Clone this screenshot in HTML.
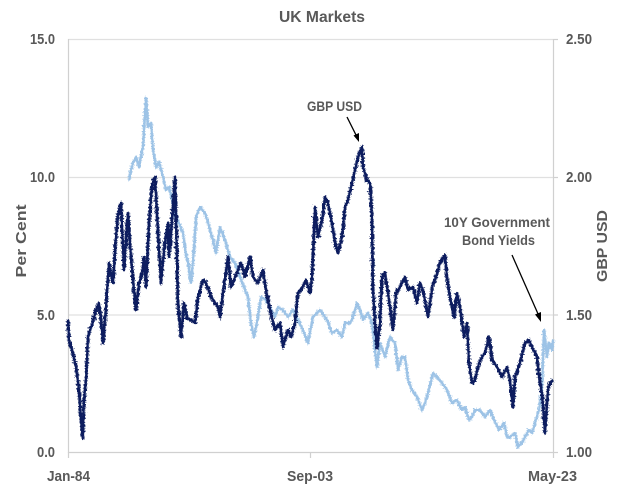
<!DOCTYPE html>
<html><head><meta charset="utf-8"><style>
html,body{margin:0;padding:0;background:#fff;}
svg{display:block;}
text{font-family:"Liberation Sans",sans-serif;font-weight:bold;fill:#595959;}
</style></head><body>
<svg width="624" height="495" viewBox="0 0 624 495" xmlns="http://www.w3.org/2000/svg">
<defs>
<filter id="jit" filterUnits="userSpaceOnUse" x="0" y="0" width="624" height="495">
<feTurbulence type="fractalNoise" baseFrequency="0.45" numOctaves="2" seed="3" result="n"/>
<feDisplacementMap in="SourceGraphic" in2="n" scale="7" xChannelSelector="R" yChannelSelector="G"/>
</filter>
<filter id="jit3" filterUnits="userSpaceOnUse" x="0" y="0" width="624" height="495">
<feTurbulence type="fractalNoise" baseFrequency="0.7" numOctaves="2" seed="21" result="n"/>
<feDisplacementMap in="SourceGraphic" in2="n" scale="6" xChannelSelector="B" yChannelSelector="R"/>
</filter>
<filter id="jit2" filterUnits="userSpaceOnUse" x="0" y="0" width="624" height="495">
<feTurbulence type="fractalNoise" baseFrequency="0.6" numOctaves="2" seed="11" result="n"/>
<feDisplacementMap in="SourceGraphic" in2="n" scale="6" xChannelSelector="G" yChannelSelector="R"/>
</filter>
</defs>
<rect width="624" height="495" fill="#fff"/>
<g stroke="#e0e0e0" stroke-width="1.2">
<line x1="68" y1="39.5" x2="553" y2="39.5"/>
<line x1="68" y1="177.5" x2="553" y2="177.5"/>
<line x1="68" y1="315" x2="553" y2="315"/>
</g>
<g stroke="#d0d0d0" stroke-width="1.2">
<line x1="68.5" y1="39" x2="68.5" y2="453"/>
<line x1="553.5" y1="39" x2="553.5" y2="453"/>
<line x1="68" y1="452.5" x2="554" y2="452.5"/>
<line x1="553" y1="39.5" x2="558" y2="39.5"/>
<line x1="553" y1="177.5" x2="558" y2="177.5"/>
<line x1="553" y1="315" x2="558" y2="315"/>
<line x1="553" y1="452.5" x2="558" y2="452.5"/>
<line x1="68.5" y1="452" x2="68.5" y2="458"/>
<line x1="310.5" y1="452" x2="310.5" y2="458"/>
<line x1="553.5" y1="452" x2="553.5" y2="458"/>
</g>

<g fill="none" stroke="#9dc3e6" stroke-linejoin="round">
<path id="L" stroke-width="2" d="M129,180 L131,170 L133,163 L136,157 L139,167 L143,147 L144,130 L146,98 L148,127 L151,123 L153,150 L156,167 L159,162 L163,177 L166,190 L169,187 L173,203 L176,217 L179,223 L183,233 L186,255 L188,262 L191,283 L194,250 L196,217 L200,207 L205,213 L208,223 L213,240 L216,253 L220,227 L225,240 L230,257 L235,263 L240,277 L245,290 L248,297 L251,323 L254,337 L258,317 L261,297 L266,300 L270,307 L275,317 L278,307 L283,310 L288,317 L293,310 L298,320 L303,330 L308,343 L313,317 L320,310 L327,320 L332,333 L337,330 L342,337 L345,323 L350,323 L353,317 L357,303 L360,310 L363,320 L368,313 L372,323 L375,350 L377,367 L380,343 L385,357 L390,337 L395,343 L398,370 L402,357 L405,357 L408,380 L412,390 L417,397 L422,410 L425,403 L428,393 L433,373 L437,377 L442,383 L447,390 L452,403 L457,400 L462,410 L465,407 L469,420 L472,417 L475,410 L480,410 L485,417 L490,410 L494,420 L499,430 L504,423 L507,437 L510,437 L515,433 L518,447 L522,443 L525,437 L529,430 L532,433 L535,423 L539,410 L542,390 L544,330 L547,357 L549,343 L552,350 L553,340"/>
<use href="#L" stroke-width="1.5" filter="url(#jit2)"/>
<use href="#L" stroke-width="1.2" filter="url(#jit3)"/>
</g>

<g fill="none" stroke="#0c1f5e" stroke-linejoin="round">
<path id="D" stroke-width="2.2" d="M68,320 L69,340 L72,350 L76,367 L79,390 L81,420 L82.7,438 L84,400 L86,380 L88,337 L90,330 L93,322 L96,310 L99,303 L101,320 L103,343 L106,307 L109,263 L111,275 L113,283 L116,237 L118,215 L121,203 L124,270 L126,240 L128,213 L131,257 L133,280 L136,310 L139,283 L142,275 L144,257 L146,287 L149,223 L152,185 L155,177 L158,233 L161,283 L164,250 L168,223 L169,257 L173,207 L175,177 L178,303 L181,337 L184,303 L187,318 L191,320 L195,323 L198,297 L203,280 L206,283 L211,297 L218,307 L220,317 L223,293 L228,257 L231,287 L238,270 L241,263 L245,277 L250,257 L253,277 L258,283 L263,270 L266,290 L270,310 L275,330 L280,323 L283,347 L288,330 L291,337 L295,323 L298,293 L301,290 L306,280 L310,293 L312,277 L315,207 L318,237 L322,220 L325,197 L328,203 L332,223 L335,243 L338,253 L342,237 L345,207 L348,200 L352,183 L355,170 L358,157 L362,147 L363,167 L367,180 L370,183 L372,217 L373,290 L375,323 L377,348 L380,323 L382,277 L385,273 L388,293 L393,330 L396,293 L400,287 L405,277 L408,290 L413,287 L417,303 L420,283 L423,290 L428,317 L433,283 L435,280 L440,263 L445,255 L447,277 L450,297 L454,317 L457,293 L460,307 L464,337 L467,323 L469,363 L472,383 L475,380 L479,363 L482,357 L485,353 L489,337 L492,360 L497,367 L502,377 L507,367 L510,380 L513,407 L515,377 L520,363 L525,343 L529,340 L532,347 L537,357 L539,377 L542,393 L545,433 L548,390 L550,383 L553,380"/>
<use href="#D" stroke-width="1.6" filter="url(#jit)"/>
<use href="#D" stroke-width="1.3" filter="url(#jit3)"/>
</g>

<text x="279" y="22" font-size="16" textLength="86" lengthAdjust="spacingAndGlyphs">UK Markets</text>

<g font-size="15" text-anchor="end">
<text x="55" y="44" textLength="25" lengthAdjust="spacingAndGlyphs">15.0</text>
<text x="55" y="182" textLength="25" lengthAdjust="spacingAndGlyphs">10.0</text>
<text x="55" y="320" textLength="18" lengthAdjust="spacingAndGlyphs">5.0</text>
<text x="55" y="457" textLength="18" lengthAdjust="spacingAndGlyphs">0.0</text>
</g>
<g font-size="15">
<text x="566" y="44" textLength="26" lengthAdjust="spacingAndGlyphs">2.50</text>
<text x="566" y="182" textLength="26" lengthAdjust="spacingAndGlyphs">2.00</text>
<text x="566" y="320" textLength="26" lengthAdjust="spacingAndGlyphs">1.50</text>
<text x="566" y="457" textLength="26" lengthAdjust="spacingAndGlyphs">1.00</text>
</g>
<g font-size="15">
<text x="47" y="481" textLength="43" lengthAdjust="spacingAndGlyphs">Jan-84</text>
<text x="287" y="481" textLength="46" lengthAdjust="spacingAndGlyphs">Sep-03</text>
<text x="528" y="481" textLength="49" lengthAdjust="spacingAndGlyphs">May-23</text>
</g>
<text transform="translate(26,241) rotate(-90)" text-anchor="middle" font-size="15" textLength="73" lengthAdjust="spacingAndGlyphs">Per Cent</text>
<text transform="translate(607,246) rotate(-90)" text-anchor="middle" font-size="15" textLength="72" lengthAdjust="spacingAndGlyphs">GBP  USD</text>

<text x="307" y="111" font-size="14" textLength="55" lengthAdjust="spacingAndGlyphs">GBP USD</text>
<text x="444" y="227" font-size="14" textLength="106" lengthAdjust="spacingAndGlyphs">10Y Government</text>
<text x="462" y="245" font-size="14" textLength="73" lengthAdjust="spacingAndGlyphs">Bond Yields</text>

<g stroke="#000" stroke-width="1.3">
<line x1="347" y1="117" x2="356.5" y2="136"/>
<line x1="512" y1="255" x2="538.5" y2="315"/>
</g>
<polygon points="359,142 353.5,135.5 359,133" fill="#000"/>
<polygon points="541,322 535,314.5 541,312" fill="#000"/>
</svg>
</body></html>
